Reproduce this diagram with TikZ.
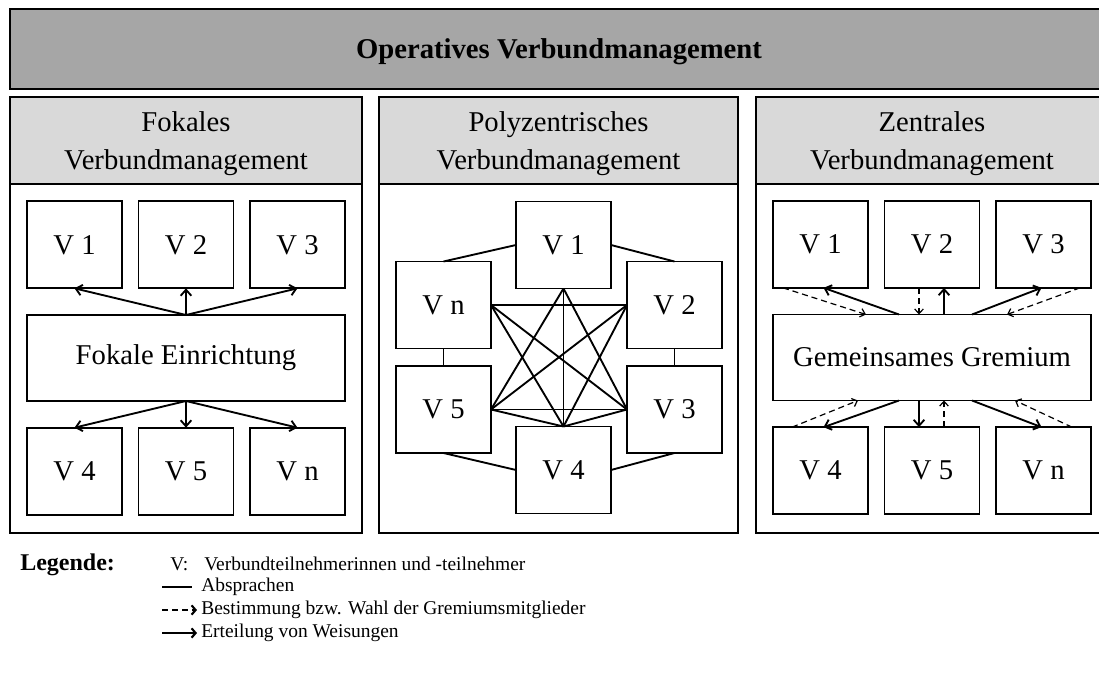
\documentclass[tikz,border=0pt]{standalone}
\usepackage{fontspec}
\setmainfont{Liberation Serif}
\usepackage{xcolor}
\definecolor{cBanner}{HTML}{A6A6A6}
\definecolor{cHead}{HTML}{D9D9D9}
\definecolor{cInk}{HTML}{000000}
\usepackage{tikz}
\usetikzlibrary{positioning,arrows.meta,calc}
\newcommand\fsBig{\fontsize{21.5}{29}\selectfont}
\newcommand\fsLeg{\fontsize{14.6}{17}\selectfont}
% zweizeiliger Spaltentitel, letzte Grundlinie 22pt unter der Mitte
\newcommand\headtext[2]{\raisebox{-22pt}[0pt][0pt]{\begin{tabular}[b]{@{}c@{}}#1\\#2\end{tabular}}}
\tikzset{
  banner-box/.style={draw=cInk,line width=1.4pt,fill=cBanner,outer sep=0pt,
    minimum width=823.5pt,minimum height=60pt,font=\fsBig\bfseries,
    text height=14.5pt,text depth=0pt},
  head-box/.style={draw=cInk,line width=1.4pt,fill=cHead,outer sep=0pt,
    minimum width=264pt,minimum height=65.25pt,font=\fsBig},
  body-box/.style={draw=cInk,line width=1.4pt,outer sep=0pt,
    minimum width=264pt,minimum height=261.75pt},
  v-box/.style={draw=cInk,line width=1.4pt,outer sep=0pt,inner sep=0pt,
    minimum width=71.25pt,minimum height=65.25pt,font=\fsBig},
  wide-box/.style={draw=cInk,line width=1.4pt,outer sep=0pt,inner sep=0pt,
    minimum width=238.5pt,minimum height=64.5pt,font=\fsBig},
  legend-text/.style={inner sep=0pt,anchor=west,font=\fsLeg},
  link/.style={line width=1.4pt,draw=cInk},
  arrow/.style={-{Straight Barb[length=4.5pt,width=8pt]},line width=1.4pt,draw=cInk},
  arrow-vote/.style={-{Straight Barb[length=3.5pt,width=6.5pt]},line width=0.9pt,
    dash pattern=on 4.5pt off 3pt,draw=cInk},
}

\begin{document}
\begin{tikzpicture}[x=0.75pt,y=-0.75pt,node distance=20pt and 12.375pt]
  \useasboundingbox (0,0) rectangle (1099,677);
  \clip (0,0) rectangle (1099,677);

  % Kopfzeile
  \node[banner-box,anchor=north west] (top) at (10,9) {Operatives Verbundmanagement};

  % Spaltenrahmen
  \node[head-box,anchor=north west]                        (fokHead) at (10,97)  {\headtext{Fokales}{Verbundmanagement}};
  \node[body-box,below=0pt of fokHead]                     (fokBody) {};
  \node[head-box,anchor=north west,minimum width=269.25pt] (polHead) at (379,97) {\headtext{Polyzentrisches}{Verbundmanagement}};
  \node[body-box,below=0pt of polHead,minimum width=269.25pt] (polBody) {};
  \node[head-box,anchor=north west]                        (zenHead) at (756,97) {\headtext{Zentrales}{Verbundmanagement}};
  \node[body-box,below=0pt of zenHead]                     (zenBody) {};

  % fokal
  \node[wide-box]           (fok) at (186,358) {Fokale Einrichtung};
  \node[v-box,above=of fok] (f2) {V 2};
  \node[v-box,left=of f2]   (f1) {V 1};
  \node[v-box,right=of f2]  (f3) {V 3};
  \node[v-box,below=of fok] (f5) {V 5};
  \node[v-box,left=of f5]   (f4) {V 4};
  \node[v-box,right=of f5]  (fn) {V n};
  \foreach \t in {f1,f2,f3} \draw[arrow] (fok.north) -- (\t.south);
  \foreach \t in {f4,f5,fn} \draw[arrow] (fok.south) -- (\t.north);

  % polyzentrisch
  \node[v-box] (p1) at (563.5,245)   {V 1};
  \node[v-box] (pn) at (443.5,305)   {V n};
  \node[v-box] (p2) at (674.5,305)   {V 2};
  \node[v-box] (p5) at (443.5,409.5) {V 5};
  \node[v-box] (p3) at (674.5,409.5) {V 3};
  \node[v-box] (p4) at (563.5,470)   {V 4};
  \foreach \a/\b in {p1.west/pn.north,p1.east/p2.north,pn.south/p5.north,
                     p2.south/p3.north,p5.south/p4.west,p3.south/p4.east}
    \draw[link] (\a) -- (\b);
  \foreach \a/\b in {p1.south/p4.north,p1.south/p5.east,p1.south/p3.west,
                     pn.east/p2.west,pn.east/p3.west,pn.east/p4.north,
                     p2.west/p5.east,p2.west/p4.north,p5.east/p3.west,
                     p5.east/p4.north,p3.west/p4.north}
    \draw[link] (\a) -- (\b);

  % zentral
  \node[wide-box]           (gre) at (932,357.5) {Gemeinsames Gremium};
  \node[v-box,above=of gre] (z2) {V 2};
  \node[v-box,left=of z2]   (z1) {V 1};
  \node[v-box,right=of z2]  (z3) {V 3};
  \node[v-box,below=of gre] (z5) {V 5};
  \node[v-box,left=of z5]   (z4) {V 4};
  \node[v-box,right=of z5]  (zn) {V n};
  % Weisungen
  \draw[arrow] ($(gre.north)+(-33,0)$) -- ($(z1.south)+(3,0)$);
  \draw[arrow] ($(gre.north)+(12,0)$)  -- ($(z2.south)+(12,0)$);
  \draw[arrow] ($(gre.north)+(40,0)$)  -- ($(z3.south)+(-2,0)$);
  \draw[arrow] ($(gre.south)+(-33,0)$) -- ($(z4.north)+(3,0)$);
  \draw[arrow] ($(gre.south)+(-13,0)$) -- ($(z5.north)+(-13,0)$);
  \draw[arrow] ($(gre.south)+(40,0)$)  -- ($(zn.north)+(-2,0)$);
  % Wahl
  \draw[arrow-vote] ($(z1.south west)+(10,0)$)  -- ($(gre.north)+(-66,0)$);
  \draw[arrow-vote] ($(z2.south)+(-13,0)$)      -- ($(gre.north)+(-13,0)$);
  \draw[arrow-vote] ($(z3.south east)+(-11,0)$) -- ($(gre.north)+(75,0)$);
  \draw[arrow-vote] ($(z4.north west)+(19,0)$)  -- ($(gre.south)+(-74,0)$);
  \draw[arrow-vote] ($(z5.north)+(12,0)$)       -- ($(gre.south)+(12,0)$);
  \draw[arrow-vote] ($(zn.north east)+(-19,0)$) -- ($(gre.south)+(83,0)$);

  % Legende
  \node[legend-text,anchor=base west,font=\fontsize{18}{20}\selectfont\bfseries] (legHead) at (20,570) {Legende:};
  \node[legend-text,anchor=base west]     (legKey)  at (170,570) {V:};
  \node[legend-text,anchor=base west]     (legV)    at (204,570) {Verbundteilnehmerinnen und -teilnehmer};
  \coordinate (legLinkA) at (162,587);  \coordinate (legLinkB) at (192,587);
  \coordinate (legVoteA) at (162,610);  \coordinate (legVoteB) at (197,610);
  \coordinate (legOrdA)  at (162,633);  \coordinate (legOrdB)  at (197,633);
  \draw[line width=0.8pt] (legLinkA) -- (legLinkB);
  \draw[arrow-vote,line width=1.4pt,dash pattern=on 4.5pt off 3pt,
    -{Straight Barb[length=3pt,width=7pt,line width=1.6pt]}] (legVoteA) -- (legVoteB);
  \draw[arrow,line width=1.4pt,
    -{Straight Barb[length=3pt,width=7pt,line width=1.6pt]}] (legOrdA) -- (legOrdB);
  \node[legend-text] (legLink) at (201,587) {Absprachen};
  \node[legend-text] (legVote) at (201,610) {Bestimmung bzw. Wahl der Gremiumsmitglieder};
  \node[legend-text] (legOrd)  at (201,633) {Erteilung von Weisungen};
\end{tikzpicture}
\end{document}
